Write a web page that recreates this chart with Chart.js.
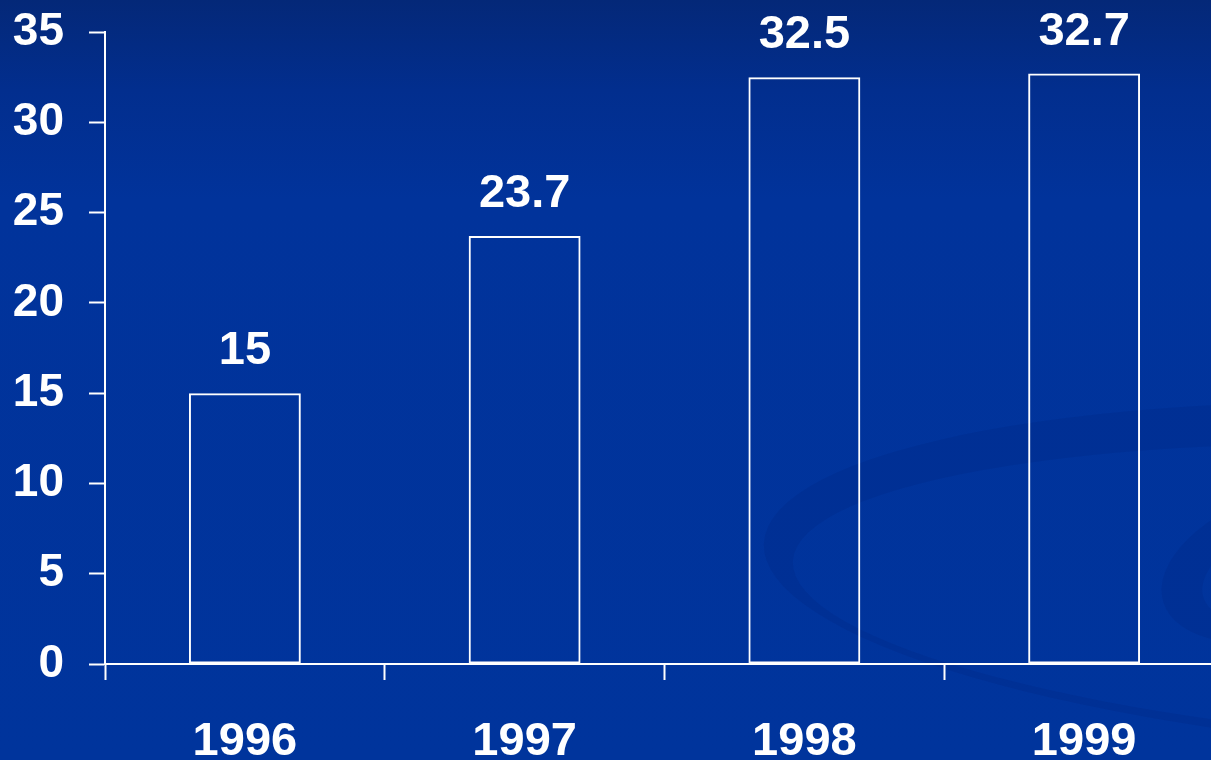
<!DOCTYPE html>
<html>
<head>
<meta charset="utf-8">
<script src="https://cdn.jsdelivr.net/npm/chart.js@4/dist/chart.umd.min.js"></script>
<style>
  html, body { margin: 0; padding: 0; overflow: hidden; }
  body { width: 1211px; height: 760px;
    background: linear-gradient(to bottom, #042878 0px, #022e8e 90px, #01339b 200px, #00349c 760px); }
  #wrap { width: 1211px; height: 760px; overflow: hidden; position: relative; }
  canvas { display: block; }
</style>
</head>
<body>
<div id="wrap"><canvas id="c" width="1226" height="760"></canvas></div>
<script>
const categories = ['1996', '1997', '1998', '1999'];
const values = [15, 23.7, 32.5, 32.7];
const valueLabels = ['15', '23.7', '32.5', '32.7'];
const yTicks = [0, 5, 10, 15, 20, 25, 30, 35];

const FONT = "'Liberation Sans', Arial, sans-serif";

const swoosh = {
  id: 'swoosh',
  beforeDraw(chart) {
    const ctx = chart.ctx;
    ctx.save();
    ctx.fillStyle = 'rgba(0, 30, 110, 0.16)';
    ctx.beginPath();
    ctx.ellipse(1500, 580, 737, 175, 0.05, 0, Math.PI * 2);
    ctx.ellipse(1510, 597, 718, 150, 0.05, 0, Math.PI * 2);
    ctx.fill('evenodd');
    ctx.beginPath();
    ctx.ellipse(1300, 560, 143, 75, -0.3, 0, Math.PI * 2);
    ctx.ellipse(1318, 562, 120, 55, -0.3, 0, Math.PI * 2);
    ctx.fill('evenodd');
    ctx.restore();
  }
};

const valueLabelPlugin = {
  id: 'valueLabels',
  afterDatasetsDraw(chart) {
    const ctx = chart.ctx;
    const meta = chart.getDatasetMeta(0);
    ctx.save();
    ctx.fillStyle = '#ffffff';
    ctx.font = 'bold 47px ' + FONT;
    ctx.textAlign = 'center';
    ctx.textBaseline = 'alphabetic';
    meta.data.forEach((bar, i) => {
      ctx.fillText(valueLabels[i], bar.x, bar.y - 29);
    });
    ctx.restore();
  }
};

new Chart(document.getElementById('c'), {
  type: 'bar',
  data: {
    labels: categories,
    datasets: [{
      data: values,
      backgroundColor: 'rgba(0,0,0,0)',
      borderColor: '#ffffff',
      borderWidth: 2,
      borderSkipped: false,
      categoryPercentage: 1,
      barPercentage: 0.4
    }]
  },
  options: {
    responsive: false,
    devicePixelRatio: 1,
    animation: false,
    layout: { padding: { top: 32, right: 2, left: 0, bottom: 0 } },
    plugins: { legend: { display: false }, tooltip: { enabled: false } },
    scales: {
      x: {
        grid: { display: true, offset: true, drawOnChartArea: false, drawTicks: true,
                tickLength: 16, tickColor: '#ffffff', tickWidth: 2 },
        border: { display: true, color: '#ffffff', width: 2 },
        ticks: { color: '#ffffff', font: { family: FONT, size: 47, weight: 'bold' }, padding: 34,
                 maxRotation: 0, autoSkip: false },
        afterFit(scale) { scale.height = 96; scale.paddingLeft = 0; scale.paddingRight = 0; }
      },
      y: {
        min: 0, max: 35,
        afterBuildTicks(scale) { scale.ticks = yTicks.map(v => ({ value: v })); },
        grid: { display: true, drawOnChartArea: false, drawTicks: true,
                tickLength: 16, tickColor: '#ffffff', tickWidth: 2 },
        border: { display: true, color: '#ffffff', width: 2 },
        ticks: { color: '#ffffff', font: { family: FONT, size: 46, weight: 'bold' }, padding: 25 },
        afterFit(scale) { scale.width = 105; scale.paddingTop = 0; scale.paddingBottom = 0; }
      }
    }
  },
  plugins: [swoosh, valueLabelPlugin]
});
</script>
</body>
</html>
